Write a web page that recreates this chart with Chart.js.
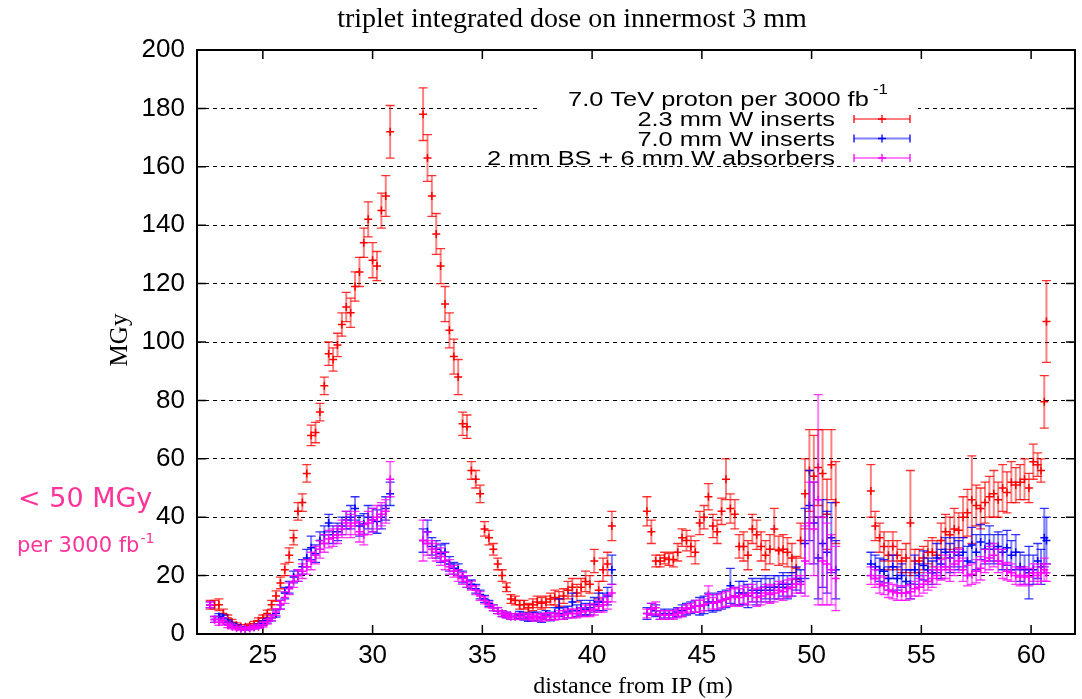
<!DOCTYPE html>
<html>
<head>
<meta charset="utf-8">
<title>triplet integrated dose</title>
<script src="https://cdn.jsdelivr.net/npm/chart.js@4.4.1/dist/chart.umd.min.js"></script>
<style>
  html, body { margin: 0; padding: 0; background: #fff; }
  canvas { display: block; }
</style>
</head>
<body>
<canvas id="doseChart" width="1082" height="699"></canvas>
<script>
// distance from IP (m), four magnet blocks with gaps in between
const distance = [
  22.6,22.8,23.0,23.2,23.4,23.6,23.8,24.0,24.2,24.4,24.6,24.8,25.0,25.2,25.4,25.6,25.8,26.0,26.2,26.4,26.6,26.8,27.0,27.2,27.4,27.6,27.8,28.0,28.2,28.4,28.6,28.8,29.0,29.2,29.4,29.6,29.8,30.0,30.2,30.4,30.6,30.8,
  32.3,32.5,32.7,32.9,33.1,33.3,33.5,33.7,33.9,34.1,34.3,34.5,34.7,34.9,35.1,35.3,35.5,35.7,35.9,36.1,36.3,36.5,36.7,36.9,37.1,37.3,37.5,37.7,37.9,38.1,38.3,38.5,38.7,38.9,39.1,39.3,39.5,39.7,39.9,40.1,40.3,40.5,40.7,40.9,
  42.5,42.7,42.9,43.1,43.3,43.5,43.7,43.9,44.1,44.3,44.5,44.7,44.9,45.1,45.3,45.5,45.7,45.9,46.1,46.3,46.5,46.7,46.9,47.1,47.3,47.5,47.7,47.9,48.1,48.3,48.5,48.7,48.9,49.1,49.3,49.5,49.7,49.9,50.1,50.3,50.5,50.7,50.9,51.1,
  52.7,52.9,53.1,53.3,53.5,53.7,53.9,54.1,54.3,54.5,54.7,54.9,55.1,55.3,55.5,55.7,55.9,56.1,56.3,56.5,56.7,56.9,57.1,57.3,57.5,57.7,57.9,58.1,58.3,58.5,58.7,58.9,59.1,59.3,59.5,59.7,59.9,60.1,60.3,60.45,60.6,60.7
];

// 2.3 mm W inserts
const dose23 = [
  10,10,10,7,5.5,4,3,2.5,2.5,2.8,3.5,4.5,5.5,7,10,13,17.5,22,27,33,42,45,55,68,69,76,85,96,94,99,106,112,110,119,124,134,142,128,126,145,150,172,
  178,163,150,137,126,113,104,95,88,72,71,56,53,48,36,33,29,24,20,16,12,11.5,10,10,9,10,11,10.5,11,12,12.5,12,13,15,16,14,16,18,17,25,15,22,24,37,
  42,35,25,25,26,25.5,25.5,28,33,32,30,28,38,40,47,37,35,42,53,43,41,30,30,27,36,34,30,27,29,36,28.5,29,28,26,22.6,32,48,56,54,57,55,41,58,45,
  49,37,33,30,27,30,27,25,26,38,25,25,26,28,28,27,32,35,34,36,35.5,40,41.5,46,44,43,45,47,48,46,50,48.5,52,51,52,53,50,59,58,56,79.5,107
];
const err23 = [
  1.5,1.5,2,1.5,1,1,.8,.7,.7,.7,.8,1,1,1.2,1.5,1.8,2,2,2.5,2.5,3,3,3,3.5,3.5,3,3,4,4,4,4,5,5,5,5,5,6,6,5,6,7,9,
  9,8,7,7,6,6,6,6,6,4,4,3,3,3,2.5,2.5,2,2,2,1.5,1.5,1.5,1.5,1.5,1.5,2,2,2,2,2,2.5,2.5,2.5,3,3,3,3,3.5,3,4,3,4,4,5,
  5,4,2,2,2,2,2.5,3,3,3.5,3.5,4,4,4,4.5,4,4,4.5,7,5,5,4,5,5,5,5,5,5,5,7,5,5,5,5,4,6,12,14,14,13,15,12,12,14,
  9,5,5,5,5,5,5,4,5,18,4,4,4,4,5,5,6,6,6,7,6,7,8,15,7,7,7,7,8,6,8,7,7,6,6,7,5,6,4,4,9,14
];

// 7.0 mm W inserts
const dose70 = [
  10,5,6,5.5,4,3,2.5,2,1.8,2,2.3,2.8,3.7,4.5,5.5,7,10,14,16,19.5,20,23,26,29.5,27.5,32,34,38,34,35,37,39,40,43,37,37.7,40,39,38.5,40,43,48,
  32,35,30,29,27.5,28,24,22.5,22,19.5,18,17,15.5,13.5,12,10.5,9,8,7,6.5,6,6,6.5,6,5.5,6,6,5.5,6.5,6,7,9,7,7.5,11,8,9,8.5,9,10,11,11,13,22,
  7,8.5,8,6.5,7,6.5,7,7.5,8,8.5,9,9.5,9.5,10,11,10.5,11,11.5,12,16.5,13,14,14,13,15,14,15,16,15,16,16,17,16,17,19,18,31,44,38,26,31,28,33,22,
  24,23,22,21.5,19,23,19,20,18,17,22,20,23.5,22,21,26,24,28,26,28,27,28,25,30.5,28,31.5,29,31,29,30,28,29.5,27,28,23,22,21,22,25,23,33,32
];
const err70 = [
  1,1,1,1,.8,.7,.6,.5,.5,.5,.5,.6,.8,.8,1,1.2,1.5,2,2,2,2,2.5,3,4,3,3,3,3,3,3,3,3,4,4,3.5,3.5,4,4,4,4,4,4,
  4,4,3,3,3,3,2.5,2,2,2,2,1.5,1.5,1.5,1.2,1,1,1,1,1,1,1,1.2,1.2,1.2,1.5,1.5,1.5,1.5,1.5,2,3,2,2,3,2,2.5,2,2.5,2.5,3,3,3,5,
  2,2,2,1.5,1.5,1.5,1.5,1.5,2,2,2,2,3,3,3,3,3,3,3,6,3,4,4,4,4,4,4,4,4,4,4,4,4,4,4,4,12,12,14,14,15,14,12,10,
  4,4,4,4,4,4,4,4,4,5,5,4,5,4,4,5,5,5,5,5,5,5,5,6,6,6,5,6,5,5,6,6,5,6,5,5,9,5,6,6,10,8
];

// 2 mm BS + 6 mm W absorbers
const doseBS = [
  10,5,4,4.5,3,2.5,2,1.8,1.8,2,2.3,2.5,3.2,4.2,5.5,7.5,10,12.5,15.5,18,20,21.5,23,25,27,29,31,32.5,33,34,36,38,37,38,35,34,38,39,40,41,42,53,
  32,31,29,28,26.5,25,23,21.5,20,19,18,16.5,15,13,11.5,10,9,8,7,6.5,6,6,6,6,6,5.5,6,5.5,6,6,6,6.5,6.5,7,7,7,7.5,8,8,8.5,9.5,10,11,14,
  7,8.5,9,6.5,6.5,6.5,6.5,7,7.5,8.5,9,9.5,9.5,10,13.5,10.5,11,11.5,12,12.5,13,12.5,13.5,13,14,12.5,13,14,13.5,14,15,14.5,15.5,16,17,17,25,38,36,46,25,24,22,19,
  20,19,17,16.5,15,14.5,14,14,14,14.5,15.5,16,17,18,19,20,22,23,22,24,25,22,20,20.5,21.5,22.5,25,26,27,25,24,21.5,21,20,19.5,20,19.5,21,20,21,22,21
];
const errBS = [
  1,1,1,1,.8,.7,.6,.5,.5,.5,.5,.6,.8,.8,1,1.2,1.5,2,2,2,2,2.5,2.5,3,3,3,3,3,3,3,3,4,4,4,3.5,3.5,4,4,4,4,4,6,
  7,4,3,3,3,3,2.5,2,2,2,2,1.5,1.5,1.5,1.2,1,1,1,1,1,1,1,1,1,1,1,1,1.2,1.2,1.2,1.2,1.5,1.5,1.5,1.5,1.5,1.5,2,2,2,2,2.5,2.5,3,
  1.5,2,2,1.5,1.5,1.5,1.5,1.5,1.5,1.5,1.5,2,2,2,3,2,2.5,2.5,2.5,3,3,3,3,3,3,3,3,3,3,3,3,3,3,3,3,3,12,14,16,36,15,14,12,11,
  3,3,3,3,2.5,2.5,2.5,2.5,2.5,2.5,2.5,3,3,3,3,3,3.5,4,4,4,4,4,3.5,3.5,4,4,4,4,4,4,5,3,3,3,3,3,3,3,3,3,4,3
];

const xTicks = [25, 30, 35, 40, 45, 50, 55, 60];
const yTicks = [0, 20, 40, 60, 80, 100, 120, 140, 160, 180, 200];

const seriesNames = ['2.3 mm W inserts', '7.0 mm W inserts', '2 mm BS + 6 mm W absorbers'];
const seriesColors = ['#ff0000', '#0000ff', '#ff00ff'];
const barColors = ['rgba(255,0,0,0.5)', 'rgba(0,0,255,0.5)', 'rgba(255,0,255,0.5)'];

const SANS = '"Liberation Sans", Arial, sans-serif';
const SERIF = '"Liberation Serif", "Times New Roman", serif';

function points(values) {
  return distance.map((x, i) => ({ x: x, y: values[i] }));
}

function makeSet(idx, values, errors) {
  return {
    label: seriesNames[idx],
    data: points(values),
    errors: errors,
    order: 3 - idx,
    showLine: false,
    pointStyle: 'cross',
    pointRadius: 4,
    pointHoverRadius: 4,
    borderWidth: 1.5,
    borderColor: seriesColors[idx],
    backgroundColor: seriesColors[idx]
  };
}

// vertical error bars with caps, drawn just before each dataset's markers
const errorBars = {
  id: 'errorBars',
  beforeDatasetDraw(chart, args) {
    const ds = chart.data.datasets[args.index];
    const xs = chart.scales.x, ys = chart.scales.y;
    const ctx = chart.ctx;
    const idx = seriesNames.indexOf(ds.label);
    ctx.save();
    ds.data.forEach((p, i) => {
      const e = ds.errors[i];
      const px = xs.getPixelForValue(p.x);
      const top = ys.getPixelForValue(p.y + e);
      const bot = ys.getPixelForValue(p.y - e);
      ctx.strokeStyle = barColors[idx];
      ctx.lineWidth = 2;
      ctx.beginPath();
      ctx.moveTo(px, top); ctx.lineTo(px, bot);
      ctx.stroke();
      ctx.strokeStyle = seriesColors[idx];
      ctx.globalAlpha = 0.8;
      ctx.lineWidth = 1.3;
      ctx.beginPath();
      ctx.moveTo(px - 4.5, top); ctx.lineTo(px + 4.5, top);
      ctx.moveTo(px - 4.5, bot); ctx.lineTo(px + 4.5, bot);
      ctx.stroke();
      ctx.globalAlpha = 1;
    });
    ctx.restore();
  }
};

function stretchText(ctx, text, x, y, sx, align) {
  ctx.save();
  ctx.translate(x, y);
  ctx.scale(sx, 1);
  ctx.textAlign = align;
  ctx.fillText(text, 0, 0);
  ctx.restore();
}

// frame, inward ticks and the key box
const frameAndKey = {
  id: 'frameAndKey',
  beforeDatasetsDraw(chart) {
    const ctx = chart.ctx;
    const a = chart.chartArea;
    const xs = chart.scales.x, ys = chart.scales.y;
    ctx.save();
    ctx.strokeStyle = '#000';
    ctx.lineWidth = 1.5;
    ctx.beginPath();
    xs.ticks.forEach(t => {
      const px = xs.getPixelForValue(t.value);
      ctx.moveTo(px, a.bottom); ctx.lineTo(px, a.bottom - 9);
      ctx.moveTo(px, a.top); ctx.lineTo(px, a.top + 9);
    });
    ys.ticks.forEach(t => {
      const py = ys.getPixelForValue(t.value);
      ctx.moveTo(a.left, py); ctx.lineTo(a.left + 9, py);
      ctx.moveTo(a.right, py); ctx.lineTo(a.right - 9, py);
    });
    ctx.stroke();
    ctx.lineWidth = 2;
    ctx.strokeRect(a.left, a.top, a.right - a.left, a.bottom - a.top);

    // key
    ctx.fillStyle = '#fff';
    ctx.fillRect(537, 80, 381, 83);
    ctx.fillStyle = '#000';
    ctx.textBaseline = 'alphabetic';
    ctx.font = '20px ' + SANS;
    stretchText(ctx, '7.0 TeV proton per 3000 fb', 568, 106, 1.27, 'left');
    ctx.font = '14px ' + SANS;
    stretchText(ctx, '-1', 873, 94, 1.2, 'left');
    ctx.font = '20px ' + SANS;
    const rows = [126, 145.5, 165];
    rows.forEach((by, i) => {
      ctx.fillStyle = '#000';
      stretchText(ctx, seriesNames[i], 835, by, 1.27, 'right');
      const sy = by - 7;
      ctx.strokeStyle = barColors[i];
      ctx.lineWidth = 2;
      ctx.beginPath();
      ctx.moveTo(854, sy); ctx.lineTo(910, sy);
      ctx.stroke();
      ctx.strokeStyle = seriesColors[i];
      ctx.lineWidth = 1.3;
      ctx.beginPath();
      ctx.moveTo(854, sy - 4); ctx.lineTo(854, sy + 4);
      ctx.moveTo(910, sy - 4); ctx.lineTo(910, sy + 4);
      ctx.moveTo(882, sy - 4); ctx.lineTo(882, sy + 4);
      ctx.moveTo(878, sy); ctx.lineTo(886, sy);
      ctx.stroke();
    });
    ctx.restore();
  },
  afterDraw(chart) {
    const ctx = chart.ctx;
    ctx.save();
    ctx.fillStyle = '#000';
    ctx.textBaseline = 'alphabetic';
    ctx.textAlign = 'center';
    ctx.font = '28px ' + SERIF;
    ctx.fillText('triplet integrated dose on innermost 3 mm', 572, 27);
    ctx.font = '24px ' + SERIF;
    ctx.fillText('distance from IP (m)', 633, 693);
    ctx.save();
    ctx.translate(127, 340);
    ctx.rotate(-Math.PI / 2);
    ctx.font = '25px ' + SERIF;
    ctx.fillText('MGy', 0, 0);
    ctx.restore();

    ctx.fillStyle = '#ff3399';
    ctx.textAlign = 'left';
    ctx.font = '27px "DejaVu Sans", Verdana, sans-serif';
    ctx.fillText('< 50 MGy', 18, 507);
    ctx.font = '21px "DejaVu Sans", Verdana, sans-serif';
    ctx.fillText('per 3000 fb', 17, 552);
    const w = ctx.measureText('per 3000 fb').width;
    ctx.font = '14px "DejaVu Sans", Verdana, sans-serif';
    ctx.fillText('-1', 17 + w + 1, 543);
    ctx.restore();
  }
};

new Chart(document.getElementById('doseChart'), {
  type: 'scatter',
  data: {
    datasets: [
      makeSet(0, dose23, err23),
      makeSet(1, dose70, err70),
      makeSet(2, doseBS, errBS)
    ]
  },
  plugins: [errorBars, frameAndKey],
  options: {
    responsive: false,
    animation: false,
    events: [],
    layout: { padding: { left: 0, right: 7, top: 50, bottom: 0 } },
    plugins: {
      legend: { display: false },
      tooltip: { enabled: false },
      title: { display: false }
    },
    scales: {
      x: {
        type: 'linear',
        min: 22,
        max: 62,
        afterFit: (scale) => { scale.height = 65; },
        afterBuildTicks: (scale) => { scale.ticks = xTicks.map(v => ({ value: v })); },
        grid: { display: false, drawTicks: false },
        border: { display: false },
        ticks: {
          padding: 6,
          color: '#000',
          font: { family: SANS, size: 26 },
          maxRotation: 0,
          autoSkip: false
        }
      },
      y: {
        min: 0,
        max: 200,
        afterFit: (scale) => { scale.width = 197; },
        afterBuildTicks: (scale) => { scale.ticks = yTicks.map(v => ({ value: v })); },
        grid: { color: '#000', lineWidth: 1, drawTicks: false },
        border: { display: false, dash: [4, 4] },
        ticks: {
          padding: 12,
          color: '#000',
          font: { family: SANS, size: 26 },
          autoSkip: false
        }
      }
    }
  }
});
</script>
</body>
</html>
